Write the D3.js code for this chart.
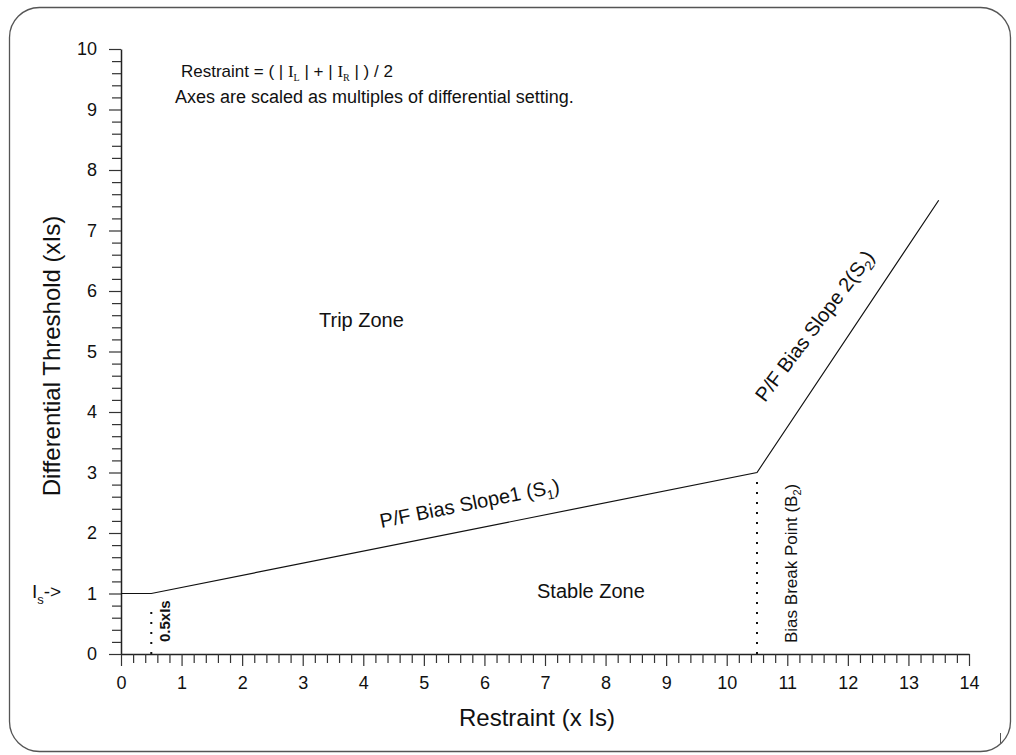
<!DOCTYPE html>
<html>
<head>
<meta charset="utf-8">
<script src="https://cdn.jsdelivr.net/npm/d3@7/dist/d3.min.js"></script>
<style>
  html, body { margin: 0; padding: 0; background: #fff; }
  svg { display: block; font-family: "Liberation Sans", Arial, sans-serif; }
</style>
</head>
<body>
<svg id="chart" width="1016" height="755"></svg>
<script>
// ---- data ----
const curveX = [0, 0.5, 10.5, 13.5];
const curveY = [1, 1, 3, 7.5];
const xTickValues = [0, 1, 2, 3, 4, 5, 6, 7, 8, 9, 10, 11, 12, 13, 14];
const yTickValues = [0, 1, 2, 3, 4, 5, 6, 7, 8, 9, 10];
const dottedX = [0.5, 10.5];
const dottedTop = [0.8, 2.85];
const xTitle = "Restraint (x Is)";
const yTitle = "Differential Threshold (xIs)";

// ---- setup ----
const svg = d3.select("#chart");
const x = d3.scaleLinear().domain([0, 14]).range([121, 969]);
const y = d3.scaleLinear().domain([0, 10]).range([654, 49]);
const minorX = d3.range(0, 14.001, 0.2).map(v => +v.toFixed(1)).filter(v => Math.abs(v - Math.round(v)) > 1e-6);
const minorY = d3.range(0, 10.001, 0.2).map(v => +v.toFixed(1)).filter(v => Math.abs(v - Math.round(v)) > 1e-6);

// rounded frame
svg.append("rect").attr("x", 9.5).attr("y", 7.5).attr("width", 1001).attr("height", 744)
  .attr("rx", 30).attr("ry", 30).attr("fill", "none").attr("stroke", "#555").attr("stroke-width", 1.3);
svg.append("line").attr("x1", 1000.5).attr("x2", 1000.5).attr("y1", 733).attr("y2", 743)
  .attr("stroke", "#555").attr("stroke-width", 1);

// axes
const gx = svg.append("g").attr("transform", `translate(0,${y(0)})`)
  .call(d3.axisBottom(x).tickValues(xTickValues).tickSize(12).tickSizeOuter(0).tickPadding(10).tickFormat(d3.format("d")));
const gxm = svg.append("g").attr("transform", `translate(0,${y(0)})`)
  .call(d3.axisBottom(x).tickValues(minorX).tickSize(9).tickSizeOuter(0).tickFormat(""));
gxm.select(".domain").remove();
const gy = svg.append("g").attr("transform", `translate(${x(0)},0)`)
  .call(d3.axisLeft(y).tickValues(yTickValues).tickSize(12).tickSizeOuter(0).tickPadding(12).tickFormat(d3.format("d")));
const gym = svg.append("g").attr("transform", `translate(${x(0)},0)`)
  .call(d3.axisLeft(y).tickValues(minorY).tickSize(9).tickSizeOuter(0).tickFormat(""));
gym.select(".domain").remove();

svg.selectAll(".tick line").attr("stroke", "#333").attr("stroke-width", 1.2);
svg.selectAll(".domain").attr("stroke", "#222").attr("stroke-width", 1.5);
svg.selectAll(".tick text").attr("font-size", 18).attr("fill", "#111")
  .attr("font-family", "'Liberation Sans', Arial, sans-serif");

// axis titles
svg.append("text").attr("x", 537).attr("y", 726).attr("text-anchor", "middle")
  .attr("font-size", 24).attr("fill", "#111").text(xTitle);
svg.append("text").attr("transform", `translate(60,356) rotate(-90)`).attr("text-anchor", "middle")
  .attr("font-size", 24).attr("fill", "#111").text(yTitle);

// characteristic curve
const line = d3.line().x((d, i) => x(curveX[i])).y((d, i) => y(curveY[i]));
svg.append("path").datum(curveX).attr("d", line)
  .attr("fill", "none").attr("stroke", "#111").attr("stroke-width", 1.2);

// dotted markers
dottedX.forEach((dx, i) => {
  svg.append("line").attr("x1", x(dx)).attr("x2", x(dx))
    .attr("y1", y(0)).attr("y2", y(dottedTop[i]))
    .attr("stroke", "#111").attr("stroke-width", 2).attr("stroke-dasharray", "2,8");
});

// notes
const serif = "'Liberation Serif', 'Times New Roman', serif";
const n1 = svg.append("text").attr("x", 181).attr("y", 77).attr("font-size", 17).attr("fill", "#111");
n1.append("tspan").text("Restraint = ( | ");
n1.append("tspan").attr("font-family", serif).text("I");
n1.append("tspan").attr("font-family", serif).attr("font-size", 10).attr("dy", 4).text("L");
n1.append("tspan").attr("dy", -4).text(" | + | ");
n1.append("tspan").attr("font-family", serif).text("I");
n1.append("tspan").attr("font-family", serif).attr("font-size", 10).attr("dy", 4).text("R");
n1.append("tspan").attr("dy", -4).text(" | ) / 2");

svg.append("text").attr("x", 175).attr("y", 103).attr("font-size", 18).attr("fill", "#111")
  .text("Axes are scaled as multiples of differential setting.");

// zone labels
svg.append("text").attr("x", 319).attr("y", 327).attr("font-size", 20).attr("fill", "#111").text("Trip Zone");
svg.append("text").attr("x", 537).attr("y", 598).attr("font-size", 20).attr("fill", "#111").text("Stable Zone");

// slope 1 label
const a1 = Math.atan2(y(curveY[1]) - y(curveY[2]), x(curveX[2]) - x(curveX[1])) * 180 / Math.PI;
const s1 = svg.append("text").attr("transform", `translate(471,510) rotate(${-a1})`)
  .attr("text-anchor", "middle").attr("font-size", 20).attr("fill", "#111");
s1.append("tspan").text("P/F Bias Slope1 (S");
s1.append("tspan").attr("font-size", 13).attr("dy", 5).text("1");
s1.append("tspan").attr("dy", -5).text(")");

// slope 2 label
const s2 = svg.append("text").attr("transform", `translate(820,330) rotate(-53)`)
  .attr("text-anchor", "middle").attr("font-size", 20).attr("fill", "#111");
s2.append("tspan").text("P/F Bias Slope 2(S");
s2.append("tspan").attr("font-size", 13).attr("dy", 5).text("2");
s2.append("tspan").attr("dy", -5).text(")");

// break point label
const bp = svg.append("text").attr("transform", `translate(797,643) rotate(-90)`)
  .attr("font-size", 17).attr("fill", "#111");
bp.append("tspan").text("Bias Break Point (B");
bp.append("tspan").attr("font-size", 11).attr("dy", 4).text("2");
bp.append("tspan").attr("dy", -4).text(")");

// 0.5xIs label
svg.append("text").attr("transform", `translate(170,642) rotate(-90)`)
  .attr("font-size", 15).attr("font-weight", "bold").attr("fill", "#111").text("0.5xIs");

// Is-> label
const is = svg.append("text").attr("x", 32).attr("y", 598).attr("font-size", 19).attr("fill", "#111");
is.append("tspan").text("I");
is.append("tspan").attr("font-size", 13).attr("dy", 6).text("s");
is.append("tspan").attr("dy", -6).text("->");
</script>
</body>
</html>
